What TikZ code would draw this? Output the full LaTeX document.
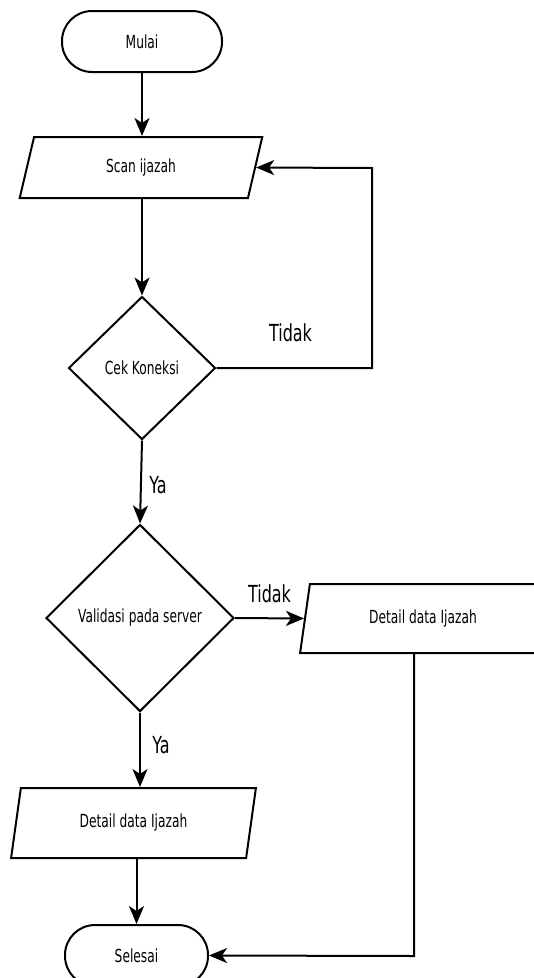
\documentclass[tikz,border=0pt]{standalone}
\usepackage{fontspec}
\setmainfont[FakeStretch=0.68]{DejaVu Sans}
\usetikzlibrary{shapes.geometric,arrows.meta}
\begin{document}
\begin{tikzpicture}[x=1pt,y=-1pt,
  every node/.style={font=\fontsize{18}{20}\selectfont},
  lw/.style={line width=2pt},
  term/.style={lw,draw,rectangle,rounded corners=30pt,inner sep=0pt},
  io/.style={lw,draw,trapezium,trapezium left angle=75,trapezium right angle=105,trapezium stretches=true,inner sep=0pt},
  dec/.style={lw,draw,diamond,inner sep=0pt},
  arr/.style={lw,-{Stealth[length=18pt,width=15pt,inset=5pt]}},
  lbl/.style={font=\fontsize{23.5}{26}\selectfont,inner sep=0pt}]
\path[use as bounding box,clip] (0,0) rectangle (534,978);
\fill[white] (0,0) rectangle (534,978);

\node[term,minimum width=160pt,minimum height=61pt] (mulai) at (142,41.5) {Mulai};
\node[io,minimum width=244pt,minimum height=61pt] (scan) at (141,167.5) {Scan ijazah};
\node[dec,minimum width=147pt,minimum height=143pt] (cek) at (142,368) {Cek Koneksi};
\node[dec,minimum width=188pt,minimum height=187pt] (val) at (140,618) {Validasi pada server};
\node[io,minimum width=246pt,minimum height=69pt] (det2) at (423,618.5) {Detail data Ijazah};
\node[io,minimum width=245pt,minimum height=70pt] (det1) at (133.5,823) {Detail data Ijazah};
\node[term,minimum width=143pt,minimum height=61pt] (sel) at (136.5,955.5) {Selesai};

\coordinate (c1) at (372,368);
\coordinate (c2) at (372,168);
\coordinate (c3) at (414,956);

\draw[arr] (mulai.south) -- (mulai.south |- scan.north);
\draw[arr] (scan.south -| cek.north) -- (cek.north);
\draw[arr] (cek.east) -- (c1) -- (c2) -- (scan.east);
\draw[arr] (cek.south) -- (val.north);
\draw[arr] (val.east) -- (det2.west);
\draw[arr] (val.south) -- (val.south |- det1.north);
\draw[arr] (det1.south -| sel.north) -- (sel.north);
\draw[arr] (c3 |- det2.south) -- (c3) -- (sel.east);

\node[lbl] (t1) at (290.5,333) {Tidak};
\node[lbl] (y1) at (158,485) {Ya};
\node[lbl] (t2) at (269.5,594) {Tidak};
\node[lbl] (y2) at (161,745) {Ya};
\end{tikzpicture}
\end{document}
